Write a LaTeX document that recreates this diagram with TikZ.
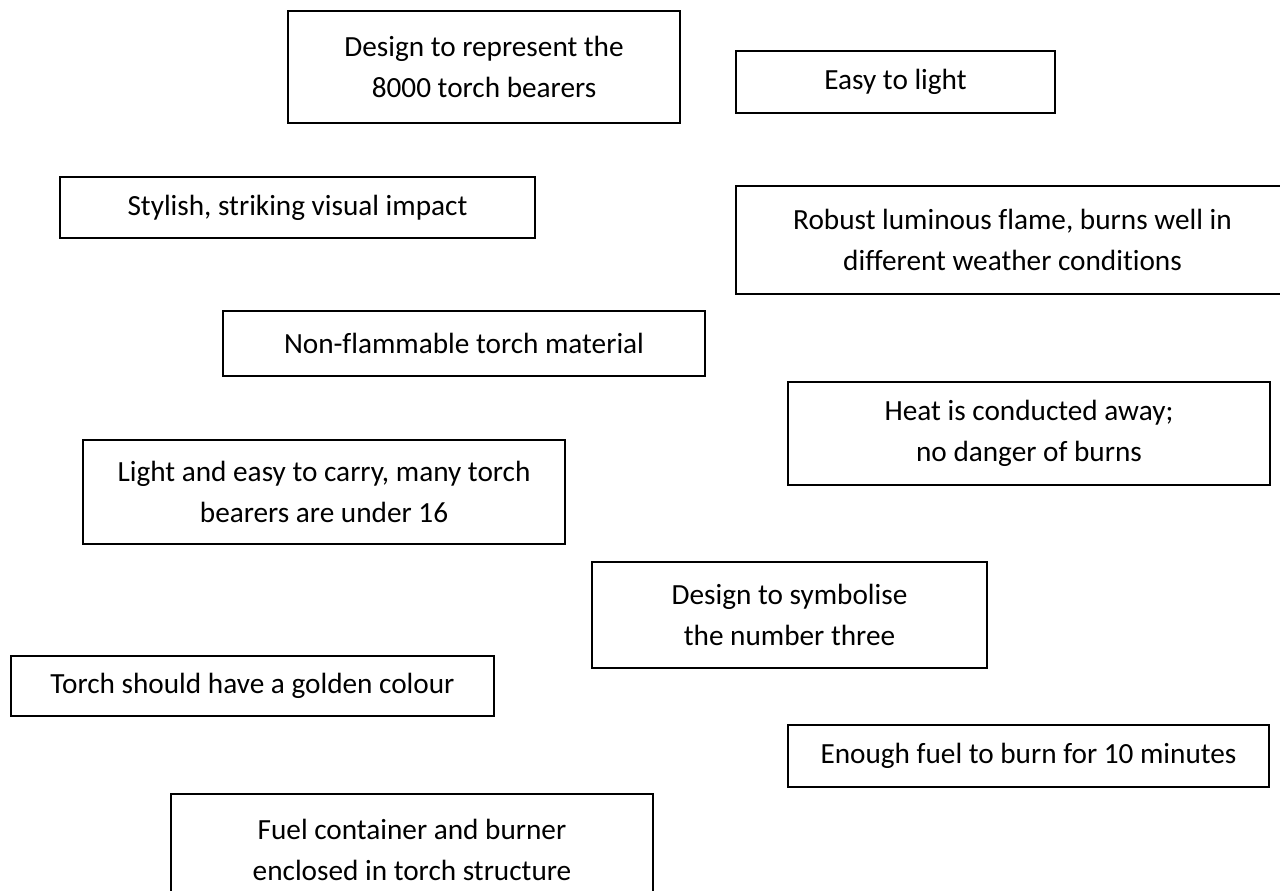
\documentclass[tikz,border=0pt]{standalone}
\usepackage{fontspec}
\setmainfont[Ligatures={NoCommon}]{Carlito}
\usepackage{tikz}
\usetikzlibrary{positioning}
\newdimen\px
\px=0.376pt
\tikzset{reqbox/.style={draw, line width=0.75pt, align=center, inner sep=0pt, font=\fontsize{11pt}{15.4pt}\selectfont}}

\begin{document}
\begin{tikzpicture}[x=0.376pt, y=-0.376pt]

	\clip (0,0) rectangle (1280,890);

	\node [reqbox, minimum width=392\px, minimum height=112\px] (bearers) at (484,67) {Design to represent the\\8000 torch bearers};
	\node [reqbox, minimum width=319\px, minimum height=62\px] (light) at (895.5,82) {Easy to light};
	\node [reqbox, minimum width=475\px, minimum height=61\px] (stylish) at (297.5,207.5) {Stylish, striking visual impact};
	\node [reqbox, minimum width=553\px, minimum height=108\px] (flame) at (1012.5,240) {Robust luminous flame, burns well in\\different weather conditions};
	\node [reqbox, minimum width=482\px, minimum height=65\px] (material) at (464,343.5) {Non-flammable torch material};
	\node [reqbox, minimum width=482\px, minimum height=103\px] (heat) at (1029,433.5) {Heat is conducted away;\\no danger of burns};
	\node [reqbox, minimum width=482\px, minimum height=104\px] (carry) at (324,492) {Light and easy to carry, many torch\\bearers are under 16};
	\node [reqbox, minimum width=395\px, minimum height=106\px] (three) at (789.5,615) {Design to symbolise\\the number three};
	\node [reqbox, minimum width=483\px, minimum height=60\px] (golden) at (252.5,686) {Torch should have a golden colour};
	\node [reqbox, minimum width=481\px, minimum height=62\px] (fuel) at (1028.5,756) {Enough fuel to burn for 10 minutes};
	\node [reqbox, minimum width=482\px, minimum height=112\px] (burner) at (412,850) {Fuel container and burner\\enclosed in torch structure};

\end{tikzpicture}
\end{document}
